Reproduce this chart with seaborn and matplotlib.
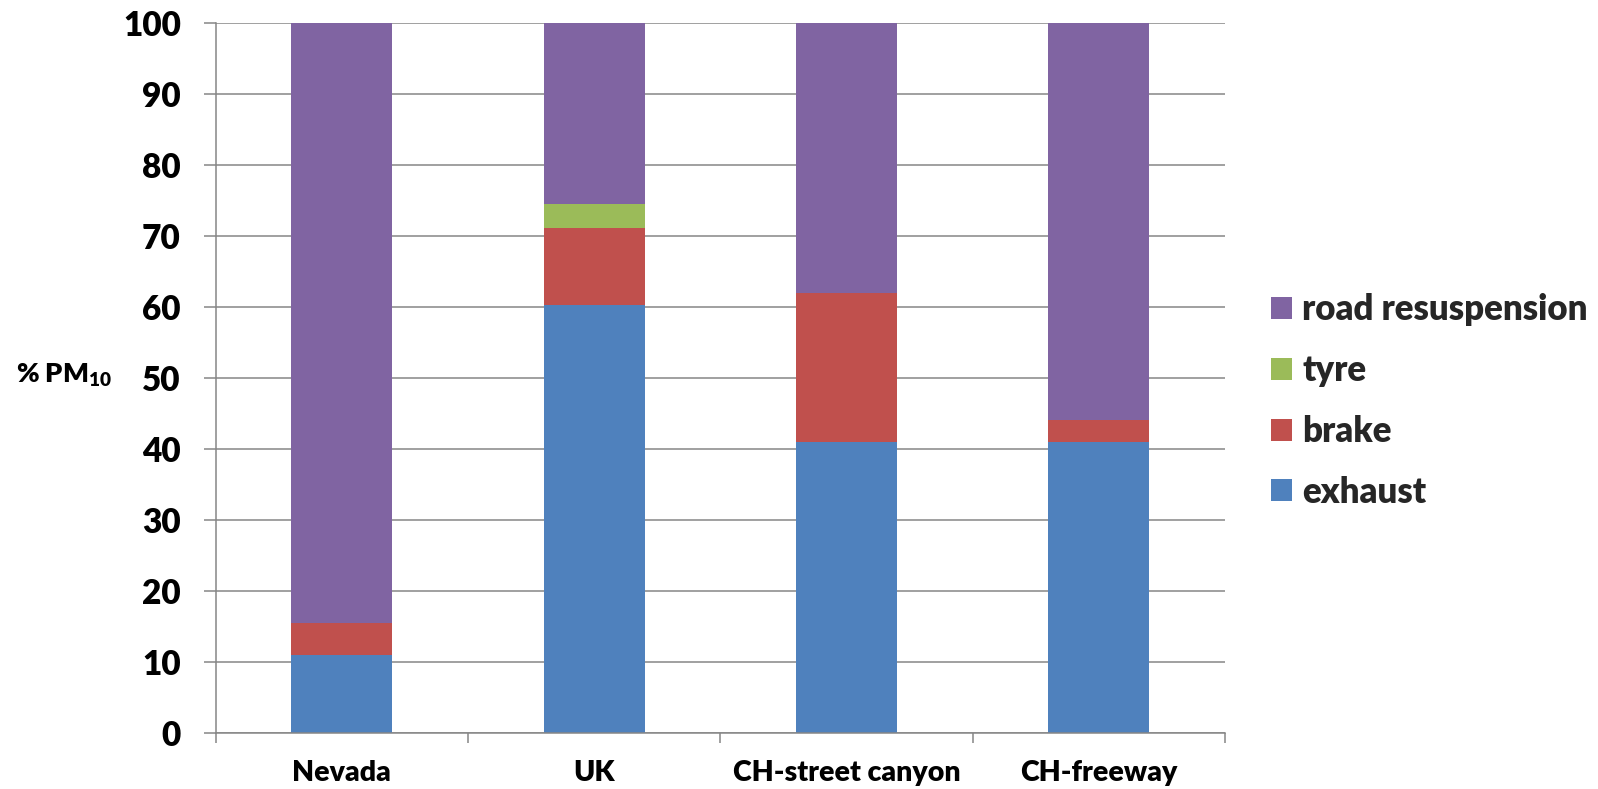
import numpy as np
import pandas as pd
import matplotlib
matplotlib.use("Agg")
import matplotlib.pyplot as plt
import seaborn as sns
from matplotlib.ticker import FixedLocator, MultipleLocator

# PM10 source apportionment (% of total) per site
sites = ["Nevada", "UK", "CH-street canyon", "CH-freeway"]
exhaust = [10.9, 60.2, 41.0, 41.0]
brake = [4.6, 10.9, 21.0, 3.0]
tyre = [0.0, 3.4, 0.0, 0.0]
road_resuspension = [84.5, 25.5, 38.0, 56.0]

sources = ["exhaust", "brake", "tyre", "road resuspension"]
colors = ["#4F81BD", "#C0504D", "#9BBB59", "#8064A2"]

df = pd.DataFrame({
    "site": sites,
    "exhaust": exhaust,
    "brake": brake,
    "tyre": tyre,
    "road resuspension": road_resuspension,
})

W = "heavy"

sns.set_theme(style="white")
plt.rcParams["font.family"] = ["Lato", "DejaVu Sans"]
plt.rcParams["font.weight"] = W
plt.rcParams["mathtext.fontset"] = "custom"
plt.rcParams["mathtext.rm"] = "Lato:heavy"
plt.rcParams["mathtext.bf"] = "Lato:heavy"
plt.rcParams["mathtext.it"] = "Lato:heavy"

grid_col = "#868686"

fig = plt.figure(figsize=(15.98, 7.89), dpi=100)
ax = fig.add_axes([0.1349, 0.0714, 0.6317, 0.8998])

bottom = np.zeros(len(sites))
handles = {}
for src, col in zip(sources, colors):
    sns.barplot(data=df, x="site", y=src, color=col, bottom=bottom,
                width=0.4, ax=ax, saturation=1, zorder=3,
                edgecolor="none", linewidth=0)
    handles[src] = plt.Rectangle((0, 0), 1, 1, facecolor=col, edgecolor="none")
    bottom = bottom + df[src].to_numpy()

ax.set_xlim(-0.5, len(sites) - 0.5)
ax.set_ylim(0, 100)
ax.yaxis.set_major_locator(MultipleLocator(10))
ax.grid(axis="y", color=grid_col, linewidth=1.1, zorder=0)
ax.set_axisbelow(True)

for side in ["top", "right"]:
    ax.spines[side].set_visible(False)
for side in ["left", "bottom"]:
    ax.spines[side].set_color(grid_col)
    ax.spines[side].set_linewidth(1.1)
    ax.spines[side].set_zorder(4)

# category labels at centres, tick marks between categories
ax.xaxis.set_minor_locator(FixedLocator(np.arange(-0.5, len(sites), 1.0)))
ax.tick_params(axis="x", which="major", length=0, pad=20, labelsize=20.5)
ax.tick_params(axis="x", which="minor", length=7, width=1.1, color=grid_col,
               direction="out", bottom=True)
ax.tick_params(axis="y", which="major", length=9, width=1.1, color=grid_col,
               direction="out", left=True, pad=16, labelsize=24)
for lab in ax.get_xticklabels() + ax.get_yticklabels():
    lab.set_fontweight(W)
    lab.set_color("black")

ax.set_xlabel("")
ax.set_ylabel("")
fig.text(64 / 1598, 1 - 383 / 789, "% PM$_{10}$", ha="center", va="baseline",
         fontsize=19.5, fontweight=W, color="black")

order = ["road resuspension", "tyre", "brake", "exhaust"]
leg = ax.legend([handles[k] for k in order], order,
                loc="center left", bbox_to_anchor=(1271 / 1598, 1 - 401 / 789),
                bbox_transform=fig.transFigure, frameon=False,
                prop={"size": 25, "weight": W},
                handlelength=0.6, handleheight=0.6, handletextpad=0.3,
                labelspacing=0.8, borderaxespad=0, borderpad=0)

fig.savefig("out.png", dpi=100)
